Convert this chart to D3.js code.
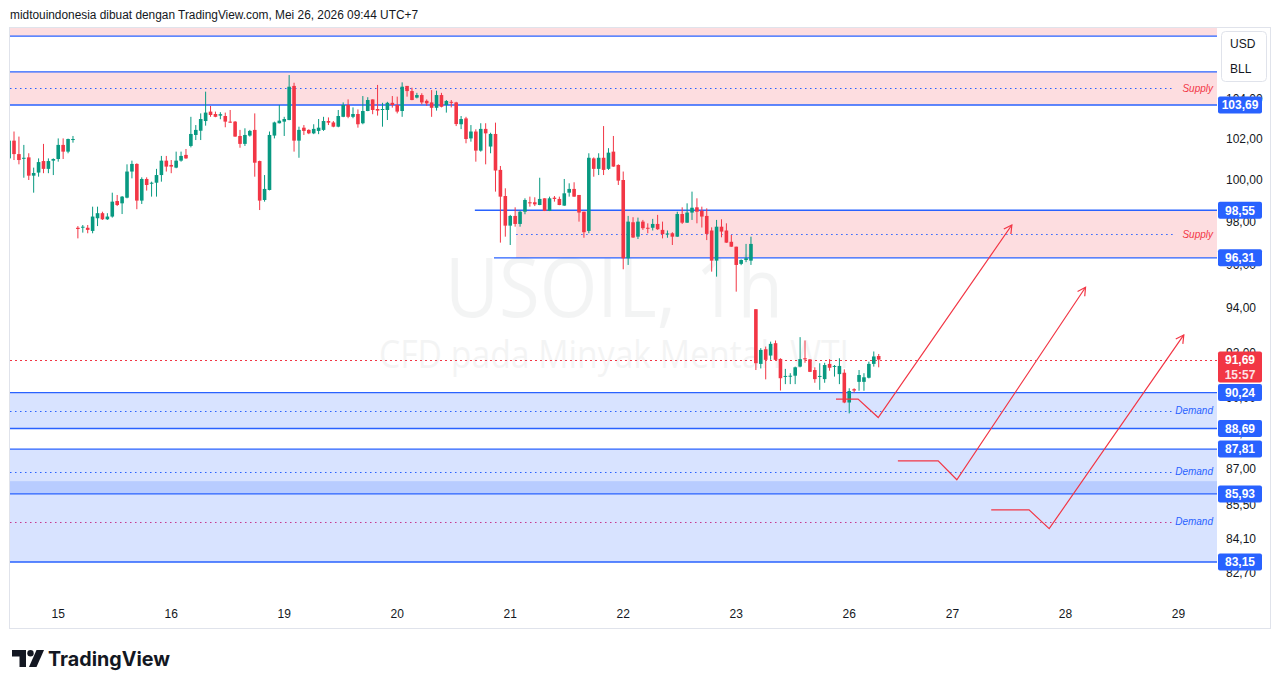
<!DOCTYPE html>
<html>
<head>
<meta charset="utf-8">
<script src="https://cdn.jsdelivr.net/npm/d3@7"></script>
<style>
  body { margin: 0; background: #fff; }
  svg { display: block; font-family: "Liberation Sans", Arial, sans-serif; }
</style>
</head>
<body>
<svg id="chart" width="1281" height="688"></svg>
<script>
// USOIL 1h candles (index 0 = first, partly hidden bar)
const open = [
  101.05,101.92,101.26,101.03,101.10,100.21,100.36,100.92,100.54,100.94,
  101.02,101.71,101.38,101.95,97.72,97.74,97.72,97.57,98.17,98.41,
  98.12,98.25,98.99,98.88,99.15,100.41,100.78,99.01,100.05,99.82,
  99.87,100.24,100.94,100.73,100.60,100.94,101.22,101.66,102.20,102.41,
  102.89,103.36,103.24,103.16,103.14,102.86,102.86,102.15,101.76,102.17,
  102.45,100.92,99.04,99.52,102.17,102.78,102.86,102.94,104.65,101.92,
  102.56,102.45,102.28,102.40,102.45,102.89,102.82,102.61,103.10,103.69,
  103.10,103.24,102.78,103.39,103.97,103.49,103.46,103.44,103.80,103.69,
  103.39,104.65,104.39,104.06,104.19,103.90,103.82,103.55,104.19,103.69,
  103.85,103.82,102.73,103.02,102.03,102.37,101.43,102.50,101.63,102.25,
  100.49,99.23,97.82,98.28,97.90,98.48,98.93,98.93,98.80,99.12,
  98.52,99.15,99.09,98.77,99.39,99.57,99.28,98.48,97.57,101.05,
  100.54,101.08,100.54,101.38,100.73,100.00,96.29,97.98,97.30,98.01,
  97.72,97.72,97.90,97.62,97.42,97.46,97.30,98.37,97.96,98.44,
  98.69,98.52,98.28,97.59,96.18,97.77,97.59,97.06,96.83,96.03,
  96.21,96.18,93.95,91.50,92.15,91.87,92.42,91.72,90.94,90.94,
  90.98,91.38,91.75,91.70,91.23,90.94,90.83,91.50,91.38,91.05,
  91.11,89.81,90.39,90.71,90.71,90.89,91.50,91.85
];
const high = [
  102.00,102.37,102.12,101.71,101.30,100.60,101.05,101.76,101.05,101.05,
  102.03,102.03,102.02,102.15,97.80,97.85,97.85,98.72,98.72,98.48,
  98.41,99.39,99.28,99.23,100.76,100.94,100.81,100.13,100.13,99.92,
  100.54,101.17,101.17,100.97,101.38,101.38,101.51,103.10,102.69,103.27,
  104.36,103.64,103.36,103.33,103.31,103.44,102.89,102.45,102.53,102.45,
  103.27,100.94,100.24,102.37,102.86,103.69,103.10,105.20,104.81,102.61,
  102.69,102.48,102.73,102.99,103.10,103.07,102.89,103.44,103.82,103.97,
  103.57,103.47,104.14,104.08,103.97,104.70,103.80,103.85,104.14,104.11,
  104.83,104.65,104.56,104.30,104.28,103.97,104.44,104.41,104.30,103.94,
  103.94,103.85,103.14,103.10,102.69,102.48,102.78,102.78,102.31,102.81,
  100.68,99.60,98.33,98.69,98.53,99.12,99.20,99.17,100.11,99.12,
  99.20,99.23,99.20,100.05,99.84,99.89,99.28,98.48,101.30,101.10,
  101.30,102.64,101.55,102.15,100.76,100.41,98.28,98.22,98.20,98.09,
  97.93,98.14,98.33,98.01,97.59,97.51,98.48,98.69,98.88,99.44,
  99.12,98.72,98.64,97.74,98.09,98.12,97.93,97.38,96.83,96.24,
  96.96,97.30,93.95,92.20,92.27,92.49,92.54,91.75,91.28,91.09,
  91.38,92.69,92.54,91.71,91.35,91.53,91.55,91.71,91.45,91.75,
  91.26,90.43,90.43,91.23,91.09,91.60,92.05,91.94
];
const low = [
  101.02,100.97,100.76,100.11,100.00,99.39,100.16,100.33,100.33,100.24,
  100.89,101.02,101.30,101.82,97.22,97.49,97.46,97.46,97.80,98.09,
  98.09,98.20,98.75,98.37,99.12,100.08,98.60,98.85,99.49,99.20,
  99.20,99.92,100.41,100.33,100.57,100.89,101.03,101.59,101.95,101.95,
  102.66,103.10,103.08,102.98,102.58,102.80,102.11,101.57,101.66,102.12,
  100.16,98.56,98.96,99.50,102.03,102.77,102.15,102.93,101.38,101.08,
  102.20,102.24,102.24,102.24,102.40,102.69,102.58,102.58,103.08,103.03,
  103.03,102.56,102.73,103.38,103.23,103.16,102.61,102.94,103.56,103.27,
  103.10,104.11,103.93,104.02,103.72,103.65,103.10,103.41,103.57,103.31,
  103.57,102.64,102.49,101.79,101.87,100.89,101.38,100.76,101.30,99.44,
  97.02,97.30,96.91,97.77,97.77,98.36,98.72,98.75,98.79,98.51,
  98.51,98.96,98.79,98.76,99.20,99.19,98.01,97.25,97.46,100.16,
  100.24,100.24,100.49,100.64,99.76,95.78,95.98,97.24,97.19,97.62,
  97.46,97.59,97.62,97.22,97.25,96.91,97.29,97.90,97.95,98.09,
  97.93,97.73,97.14,95.67,95.44,97.27,97.01,96.82,94.75,95.97,
  96.11,95.98,91.23,91.30,90.82,91.68,91.67,90.33,90.61,90.61,
  90.61,91.35,91.55,91.14,90.67,90.36,90.67,91.20,90.94,90.61,
  89.78,89.34,90.24,90.32,90.32,90.86,91.38,91.35
];
const close = [
  101.92,101.26,100.97,101.08,100.21,100.34,100.87,100.54,100.92,101.02,
  101.71,101.38,102.00,102.00,97.66,97.77,97.62,98.25,98.41,98.12,
  98.25,98.96,98.80,99.20,100.41,100.78,99.01,100.05,99.76,99.87,
  100.24,100.94,100.65,100.65,100.94,101.17,101.05,102.25,102.45,102.99,
  103.31,103.19,103.10,103.23,102.86,102.81,102.12,101.76,102.20,102.40,
  100.84,99.01,99.57,102.20,102.82,102.91,102.99,104.61,101.92,102.45,
  102.40,102.28,102.50,102.56,102.89,102.81,102.61,103.14,103.69,103.10,
  103.24,102.73,103.39,103.94,103.44,103.41,103.49,103.80,103.69,103.36,
  104.61,104.39,103.94,104.19,103.82,103.77,103.55,104.19,103.60,103.89,
  103.80,102.74,102.99,102.00,102.37,101.43,102.50,102.28,102.25,100.46,
  99.20,97.82,98.28,97.90,98.48,99.04,98.88,98.83,99.09,98.52,
  99.12,99.09,98.80,99.36,99.57,99.20,98.44,97.51,101.08,100.54,
  101.08,100.49,101.33,100.65,99.97,96.29,98.01,97.26,98.01,97.70,
  97.69,97.90,97.65,97.42,97.45,97.30,98.37,97.96,98.44,98.67,
  98.48,98.25,97.43,96.18,97.77,97.54,97.02,96.83,95.98,96.21,
  96.29,96.96,91.53,92.12,91.68,92.39,91.68,90.87,90.97,90.98,
  91.35,91.71,91.70,91.15,90.83,90.97,91.45,91.33,91.41,91.41,
  89.81,90.31,90.33,91.01,90.91,91.50,91.83,91.69
];
const lastPrice = 91.69;
const lastCountdown = '15:57';

// time axis: day label and the bar index it sits on
const dayLabels = ['15', '16', '19', '20', '21', '22', '23', '26', '27', '28', '29'];
const dayIndex = [10, 33, 56, 79, 102, 125, 148, 171, 192, 215, 238];

// price axis ticks (log scale)
const priceTicks = [104, 102, 100, 98, 96, 94, 92, 90, 88.5, 87, 85.5, 84.1, 82.7];

// supply / demand boxes
const zoneTop    = [108.50, 105.36, 98.55, 90.24, 87.81, 86.46];
const zoneBottom = [107.20, 103.69, 96.31, 88.69, 85.93, 83.15];
const zoneFrom   = [-5, -5, 103.2, -5, -5, -5];
const zoneKind   = ['supply', 'supply', 'supply', 'demand', 'demand', 'demand'];
const zoneText   = ['', 'Supply', 'Supply', 'Demand', 'Demand', 'Demand'];

// horizontal levels and where each one starts
const levelPrice = [107.20, 105.36, 103.69, 98.55, 96.31, 90.24, 88.69, 87.81, 85.93, 83.15];
const levelFrom  = [-5, -5, -5, 94.8, 98.7, -5, -5, -5, -5, -5];
const levelTags  = [103.69, 98.55, 96.31, 90.24, 88.69, 87.81, 85.93, 83.15];

// projected paths: bar index / price of each vertex
const pathIndex = [[168.3, 172.8, 176.9, 204.1], [180.9, 189.1, 192.9, 219.1], [199.9, 207.6, 211.7, 239.1]];
const pathPrice = [[89.96, 89.96, 89.16, 97.85], [87.31, 87.31, 86.52, 94.95], [85.27, 85.27, 84.50, 92.79]];

/* ── layout ── */
const W = 1281, H = 688;
const PL = 10, PR = 1217, PT = 28, PB = 600;
const UP = '#089981', DOWN = '#f23645', BLUE = '#2962ff', INK = '#131722';

const svg = d3.select('#chart');
const x = d3.scaleLinear().domain([0, 238]).range([9.1, 1178.4]);
const y = d3.scaleLog().domain([103.69, 83.15]).range([105, 562]);
const fmt = v => d3.format('.2f')(v).replace('.', ',');

svg.append('rect').attr('width', W).attr('height', H).attr('fill', '#fff');

svg.append('defs').append('clipPath').attr('id', 'plot')
  .append('rect').attr('x', PL).attr('y', PT).attr('width', PR - PL).attr('height', PB - PT);

// outer frame
svg.append('rect').attr('x', 9.5).attr('y', 27.5).attr('width', 1261).attr('height', 601)
  .attr('fill', 'none').attr('stroke', '#e0e3eb');

// header line
svg.append('text').attr('x', 10).attr('y', 18.5)
  .attr('font-size', 12.5).attr('fill', INK)
  .attr('textLength', 408).attr('lengthAdjust', 'spacingAndGlyphs')
  .text('midtouindonesia dibuat dengan TradingView.com, Mei 26, 2026 09:44 UTC+7');

const plot = svg.append('g').attr('clip-path', 'url(#plot)');

// watermark
const wm = plot.append('g').attr('fill', INK).attr('opacity', 0.045)
  .attr('text-anchor', 'middle').style('font-family', '"Open Sans", "Noto Sans", sans-serif');
wm.append('text').attr('x', 614).attr('y', 317).attr('font-size', 82)
  .attr('textLength', 338).attr('lengthAdjust', 'spacingAndGlyphs').text('USOIL, 1h');
wm.append('text').attr('x', 614).attr('y', 368).attr('font-size', 39)
  .attr('textLength', 470).attr('lengthAdjust', 'spacingAndGlyphs').text('CFD pada Minyak Mentah WTI');

// zones
const zones = zoneTop.map((t, i) => ({ top: t, bottom: zoneBottom[i], from: zoneFrom[i], kind: zoneKind[i], text: zoneText[i], i }));
plot.append('g').selectAll('rect').data(zones).join('rect')
  .attr('x', d => Math.max(PL, x(d.from))).attr('y', d => y(d.top))
  .attr('width', d => PR - Math.max(PL, x(d.from)))
  .attr('height', d => y(d.bottom) - y(d.top))
  .attr('fill', d => d.kind === 'supply' ? 'rgba(242,54,69,0.17)' : 'rgba(41,98,255,0.18)');

// zone mid lines + labels
const mid = d => (y(d.top) + y(d.bottom)) / 2;
const labelled = zones.filter(d => d.text);
plot.append('g').selectAll('line').data(labelled).join('line')
  .attr('x1', d => Math.max(PL, x(d.from))).attr('x2', PR - 42)
  .attr('y1', d => Math.round(mid(d)) + 0.5).attr('y2', d => Math.round(mid(d)) + 0.5)
  .attr('stroke', d => d.i === 5 ? '#c8378e' : BLUE).attr('stroke-width', 1.2)
  .attr('stroke-dasharray', '1.5,3.5');
plot.append('g').selectAll('text').data(labelled).join('text')
  .attr('x', PR - 4).attr('y', d => mid(d)).attr('dy', '0.35em')
  .attr('text-anchor', 'end').attr('font-size', 10).attr('font-style', 'italic')
  .attr('fill', d => d.kind === 'supply' ? DOWN : BLUE)
  .text(d => d.text);

// last price dotted line
plot.append('line').attr('x1', PL).attr('x2', PR)
  .attr('y1', Math.round(y(lastPrice)) + 0.5).attr('y2', Math.round(y(lastPrice)) + 0.5)
  .attr('stroke', DOWN).attr('stroke-width', 1.2).attr('stroke-dasharray', '2,3');

// level lines
plot.append('g').selectAll('line').data(levelPrice).join('line')
  .attr('x1', (d, i) => Math.max(PL, x(levelFrom[i]))).attr('x2', PR)
  .attr('y1', d => y(d)).attr('y2', d => y(d))
  .attr('stroke', BLUE).attr('stroke-width', 1.4);

// candles
const bars = open.map((o, i) => ({ i, o, h: high[i], l: low[i], c: close[i] }));
const cg = plot.append('g').selectAll('g').data(bars).join('g')
  .attr('fill', d => d.c >= d.o ? UP : DOWN).attr('stroke', d => d.c >= d.o ? UP : DOWN);
cg.append('line')
  .attr('x1', d => x(d.i)).attr('x2', d => x(d.i))
  .attr('y1', d => y(d.h)).attr('y2', d => y(d.l)).attr('stroke-width', 1);
cg.append('rect').attr('stroke', 'none')
  .attr('x', d => x(d.i) - 1.8).attr('width', 3.6)
  .attr('y', d => y(Math.max(d.o, d.c)))
  .attr('height', d => Math.max(1, Math.abs(y(d.o) - y(d.c))));

// projected paths with open arrow heads
const paths = pathIndex.map((xs, k) => xs.map((v, j) => [x(v), y(pathPrice[k][j])]));
const pg = plot.append('g').attr('fill', 'none').attr('stroke', DOWN).attr('stroke-width', 1.2);
pg.selectAll('path.leg').data(paths).join('path').attr('class', 'leg')
  .attr('d', d3.line());
pg.selectAll('path.head').data(paths).join('path').attr('class', 'head')
  .attr('d', p => {
    const [ax, ay] = p[p.length - 2], [bx, by] = p[p.length - 1];
    const a = Math.atan2(by - ay, bx - ax), len = 9, sp = 0.5;
    const l = [bx - len * Math.cos(a - sp), by - len * Math.sin(a - sp)];
    const r = [bx - len * Math.cos(a + sp), by - len * Math.sin(a + sp)];
    return `M${l}L${bx},${by}L${r}`;
  });

// price axis
const axis = svg.append('g').attr('font-size', 12).attr('fill', INK);
axis.selectAll('text').data(priceTicks).join('text')
  .attr('x', 1226).attr('y', d => y(d)).attr('dy', '0.35em').text(fmt);

// currency button
svg.append('rect').attr('x', 1221.5).attr('y', 31.5).attr('width', 45).attr('height', 50)
  .attr('rx', 4).attr('fill', '#fff').attr('stroke', '#e0e3eb');
svg.append('text').attr('x', 1230).attr('y', 44).attr('dy', '0.35em')
  .attr('font-size', 12).attr('fill', INK).text('USD');
svg.append('text').attr('x', 1230).attr('y', 69).attr('dy', '0.35em')
  .attr('font-size', 12).attr('fill', INK).text('BLL');

// level tags
const tags = svg.append('g').selectAll('g').data(levelTags).join('g');
tags.append('rect').attr('x', 1218).attr('y', d => y(d) - 8.5).attr('width', 44).attr('height', 17)
  .attr('rx', 2).attr('fill', BLUE);
tags.append('text').attr('x', 1240).attr('y', d => y(d)).attr('dy', '0.36em')
  .attr('text-anchor', 'middle').attr('font-size', 12).attr('font-weight', 'bold')
  .attr('fill', '#fff').text(fmt);

// last price tag
const ly = y(lastPrice);
svg.append('rect').attr('x', 1218).attr('y', ly - 8).attr('width', 44).attr('height', 31)
  .attr('rx', 2).attr('fill', DOWN);
svg.append('text').attr('x', 1240).attr('y', ly + 0.5).attr('dy', '0.36em')
  .attr('text-anchor', 'middle').attr('font-size', 12).attr('font-weight', 'bold')
  .attr('fill', '#fff').text(fmt(lastPrice));
svg.append('text').attr('x', 1240).attr('y', ly + 15.5).attr('dy', '0.36em')
  .attr('text-anchor', 'middle').attr('font-size', 12).attr('font-weight', 'bold')
  .attr('fill', '#fde2e4').text(lastCountdown);

// time axis
svg.append('g').attr('font-size', 12).attr('fill', INK).attr('text-anchor', 'middle')
  .selectAll('text').data(dayLabels).join('text')
  .attr('x', (d, i) => x(dayIndex[i])).attr('y', 614).attr('dy', '0.35em').text(d => d);

// TradingView logo
const logo = svg.append('g').attr('fill', INK);
logo.append('path').attr('d', 'M12,650H26V667H19.5V656.5H12Z');
logo.append('circle').attr('cx', 30.5).attr('cy', 653.2).attr('r', 3.2);
logo.append('path').attr('d', 'M36.5,650H44L36.5,667H29Z');
logo.append('text').attr('x', 48).attr('y', 665.5)
  .attr('font-size', 20).attr('font-weight', 'bold')
  .style('font-family', 'Inter, Roboto, sans-serif')
  .attr('textLength', 122).attr('lengthAdjust', 'spacingAndGlyphs').text('TradingView');
</script>
</body>
</html>
